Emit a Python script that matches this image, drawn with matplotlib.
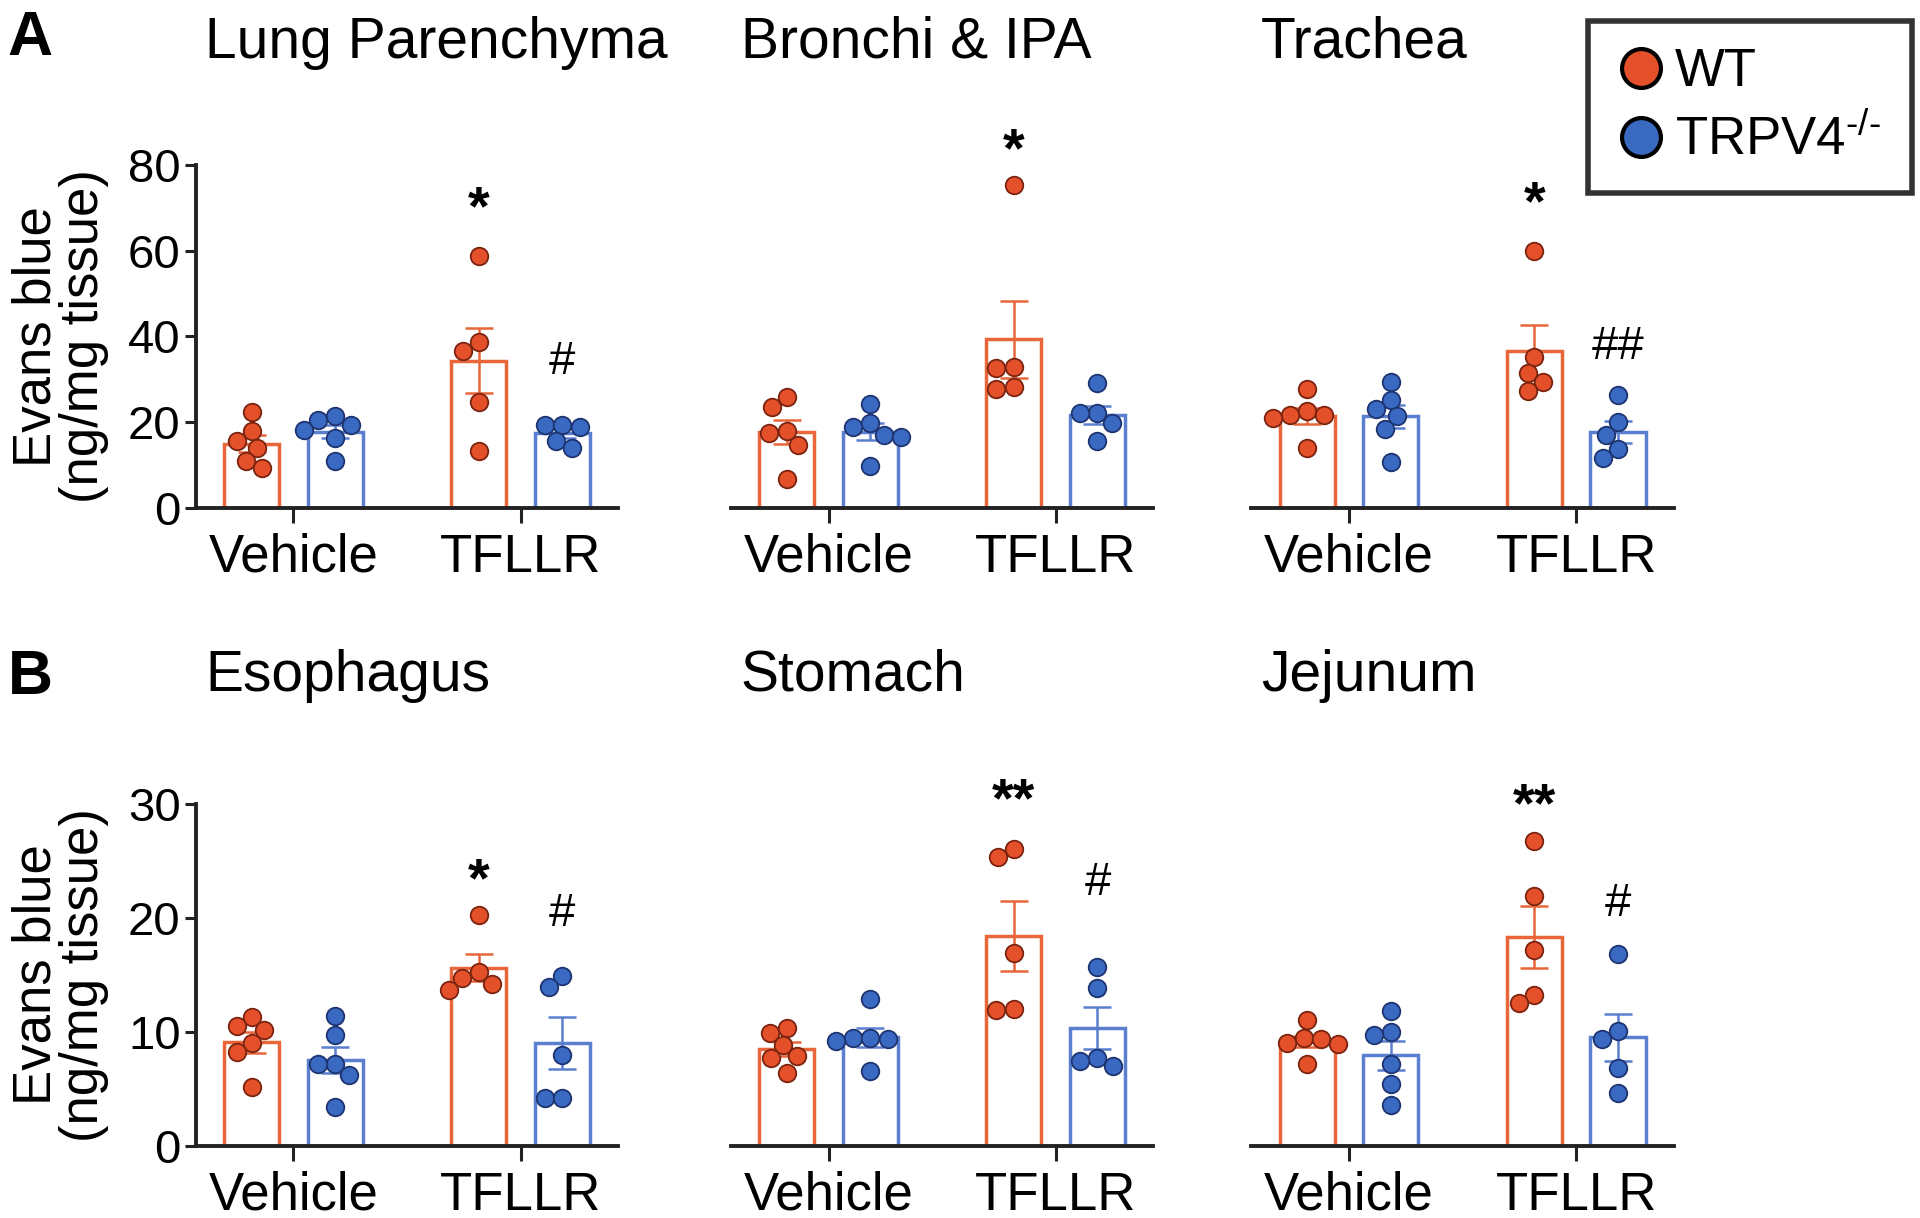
import numpy as np
import matplotlib
matplotlib.use('Agg')
import matplotlib.pyplot as plt
from matplotlib.lines import Line2D

plt.rcParams['font.family'] = ['Liberation Sans', 'DejaVu Sans']
plt.rcParams['mathtext.fontset'] = 'custom'
plt.rcParams['mathtext.rm'] = 'Liberation Sans'
plt.rcParams['mathtext.it'] = 'Liberation Sans:italic'
plt.rcParams['mathtext.bf'] = 'Liberation Sans:bold'

# ---------------------------------------------------------------- data
treatments = ['Vehicle', 'TFLLR']
genotypes = ['WT', 'TRPV4$^{\\mathrm{\u2010/\u2010}}$']
titles_a = ['Lung Parenchyma', 'Bronchi & IPA', 'Trachea']
titles_b = ['Esophagus', 'Stomach', 'Jejunum']

# each tissue: WT vehicle, TRPV4-/- vehicle, WT TFLLR, TRPV4-/- TFLLR
lung_parenchyma = [
    [22.4, 17.8, 15.5, 13.9, 10.8, 9.3],
    [21.3, 20.5, 19.3, 18.2, 16.2, 10.8],
    [58.7, 38.6, 36.7, 24.7, 13.1],
    [19.3, 18.9, 19.3, 15.5, 13.9],
]
bronchi_ipa = [
    [25.9, 23.6, 17.8, 17.4, 14.7, 6.6],
    [24.3, 19.7, 18.9, 17.0, 16.6, 9.7],
    [75.3, 32.8, 32.5, 28.2, 27.8],
    [29.0, 22.0, 22.0, 19.7, 15.5],
]
trachea = [
    [27.7, 22.6, 21.7, 21.7, 20.9, 14.0],
    [29.4, 25.1, 23.0, 21.3, 18.3, 10.6],
    [60.0, 35.3, 31.5, 29.4, 27.2],
    [26.4, 20.0, 17.0, 13.6, 11.5],
]
esophagus = [
    [11.3, 10.5, 10.2, 9.0, 8.2, 5.2],
    [11.4, 9.7, 7.2, 7.2, 6.2, 3.4],
    [20.2, 15.2, 14.7, 14.2, 13.7],
    [14.9, 13.9, 8.0, 4.2, 4.2],
]
stomach = [
    [10.3, 9.9, 8.8, 7.9, 7.7, 6.4],
    [12.9, 9.5, 9.5, 9.4, 9.2, 6.6],
    [26.0, 25.3, 16.9, 12.0, 11.9],
    [15.7, 13.8, 7.7, 7.4, 7.0],
]
jejunum = [
    [11.0, 9.5, 9.4, 9.0, 8.9, 7.2],
    [11.8, 10.0, 9.7, 7.2, 5.4, 3.6],
    [26.7, 21.9, 17.2, 13.2, 12.5],
    [16.8, 10.1, 9.4, 6.8, 4.6],
]

# significance marks over the TFLLR bars: (WT mark, height, TRPV4 mark, height)
sig_a = [('*', 69.5, '#', 34.0), ('*', 83.0, '', 0), ('*', 70.7, '##', 37.5)]
sig_b = [('*', 23.1, '#', 20.3), ('**', 30.1, '#', 23.0), ('**', 29.7, '#', 21.2)]

# ---------------------------------------------------------------- style
fill_col = ['#e4502a', '#3a69c2']
edge_col = ['#7a2410', '#1d3470']
bar_col = ['#e8663a', '#5b7fd0']
offsets = [-0.184, 0.184]
bar_w = 0.243
xlim = (-0.43, 1.43)

fig_w, fig_h = 19.2, 12.18
lefts = [0.102, 0.3807, 0.6518]
bottoms = [0.5833, 0.0592]
ax_w, ax_h = 0.22, 0.281
dot_px = 17.5


def swarm(vals, px_x, px_y, d=dot_px):
    """Simple beeswarm: offsets (data units) so dots of diameter d px do not overlap."""
    order = np.argsort(vals)[::-1]
    placed = []
    out = np.zeros(len(vals))
    for i in order:
        y = vals[i] * px_y
        cands = [0.0]
        for (xj, yj) in placed:
            dy = y - yj
            if abs(dy) < d:
                dx = np.sqrt(d ** 2 - dy ** 2)
                cands += [xj - dx, xj + dx]
        cands = sorted(cands, key=lambda c: (abs(c), c))
        for c in cands:
            ok = all((c - xj) ** 2 + (y - yj) ** 2 >= d ** 2 - 1e-6 for xj, yj in placed)
            if ok:
                break
        placed.append((c, y))
        out[i] = c / px_x
    return out


def draw_panel(ax, groups, ymax, yticks, show_y, sig):
    px_x = fig_w * 100 * ax_w / (xlim[1] - xlim[0])
    px_y = fig_h * 100 * ax_h / ymax
    for i, vals in enumerate(groups):
        vals = np.asarray(vals, dtype=float)
        tr, gen = divmod(i, 2)
        xc = tr + offsets[gen]
        mean = vals.mean()
        sem = vals.std(ddof=1) / np.sqrt(len(vals))
        ax.bar(xc, mean, width=bar_w, facecolor='white', edgecolor=bar_col[gen],
               linewidth=2.5, zorder=1)
        ax.errorbar(xc, mean, yerr=sem, color=bar_col[gen], lw=1.8, capsize=10,
                    capthick=1.8, zorder=2)
        xs = swarm(vals, px_x, px_y)
        ax.scatter(xc + xs, vals, s=160, c=fill_col[gen], edgecolors=edge_col[gen],
                   linewidths=1.3, zorder=3, clip_on=False)

    wt_mark, wt_y, ko_mark, ko_y = sig
    ax.text(1 + offsets[0], wt_y, wt_mark, ha='center', va='center', fontsize=40,
            fontweight='bold')
    if ko_mark:
        ax.text(1 + offsets[1], ko_y, ko_mark, ha='center', va='center', fontsize=34)

    ax.set_xlim(*xlim)
    ax.set_ylim(0, ymax)
    ax.set_xticks([0, 1])
    ax.set_xticklabels(treatments, fontsize=38)
    ax.tick_params(axis='x', length=11, width=2.2, pad=7, color='#222222')
    for s in ['top', 'right']:
        ax.spines[s].set_visible(False)
    ax.spines['bottom'].set_linewidth(2.8)
    ax.spines['bottom'].set_color('#222222')
    if show_y:
        ax.spines['left'].set_linewidth(2.8)
        ax.spines['left'].set_color('#222222')
        ax.set_yticks(yticks)
        ax.tick_params(axis='y', length=8, width=2.2, pad=3, labelsize=34, color='#222222')
        ax.set_ylabel('Evans blue\n(ng/mg tissue)', fontsize=38, linespacing=0.95)
        ax.yaxis.set_label_coords(-0.205, 0.5)
    else:
        ax.spines['left'].set_visible(False)
        ax.set_yticks([])


fig = plt.figure(figsize=(fig_w, fig_h), dpi=100)

row_a = [lung_parenchyma, bronchi_ipa, trachea]
row_b = [esophagus, stomach, jejunum]
for c in range(3):
    ax = fig.add_axes([lefts[c], bottoms[0], ax_w, ax_h])
    draw_panel(ax, row_a[c], 80, [0, 20, 40, 60, 80], c == 0, sig_a[c])
    fig.text(lefts[c] + 0.005, 0.965, titles_a[c], fontsize=41, ha='left', va='center')

    ax = fig.add_axes([lefts[c], bottoms[1], ax_w, ax_h])
    draw_panel(ax, row_b[c], 30, [0, 10, 20, 30], c == 0, sig_b[c])
    fig.text(lefts[c] + 0.005, 0.445, titles_b[c], fontsize=41, ha='left', va='center')

fig.text(0.004, 0.993, 'A', fontsize=45, fontweight='bold', ha='left', va='top')
fig.text(0.004, 0.468, 'B', fontsize=45, fontweight='bold', ha='left', va='top')

handles = [Line2D([], [], ls='none', marker='o', markersize=28, markerfacecolor=fill_col[g],
                  markeredgecolor='black', markeredgewidth=3) for g in range(2)]
leg = fig.legend(handles, genotypes, loc='upper left', bbox_to_anchor=(0.827, 0.983, 0.169, 0.0),
                 mode='expand', fontsize=38, frameon=True, fancybox=False, edgecolor='black',
                 handletextpad=0.15, labelspacing=0.35, borderpad=0.5, borderaxespad=0,
                 handlelength=1.0)
leg.get_frame().set_linewidth(4)

fig.savefig('out.png', dpi=100, facecolor='white')
